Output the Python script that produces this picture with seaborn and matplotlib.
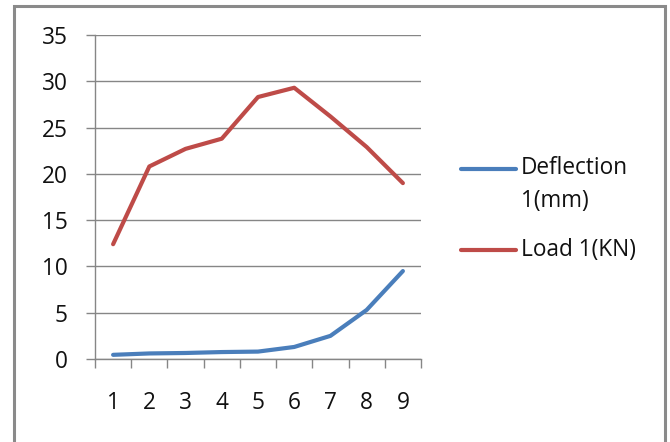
import matplotlib
matplotlib.use("Agg")
import matplotlib.pyplot as plt
from matplotlib.lines import Line2D
from matplotlib.patches import Rectangle
import seaborn as sns
import pandas as pd

# Test readings per step
steps = [1, 2, 3, 4, 5, 6, 7, 8, 9]
deflection_mm = [0.45, 0.6, 0.65, 0.75, 0.8, 1.3, 2.5, 5.3, 9.5]
load_kn = [12.4, 20.8, 22.7, 23.8, 28.3, 29.3, 26.2, 22.9, 19.0]
series_names = ["Deflection\n1(mm)", "Load 1(KN)"]
series_colors = ["#4A7EBB", "#BE4B48"]
y_ticks = [0, 5, 10, 15, 20, 25, 30, 35]

df = pd.DataFrame({
    "step": steps * 2,
    "value": deflection_mm + load_kn,
    "series": [series_names[0]] * len(steps) + [series_names[1]] * len(steps),
})

sns.set_theme(style="white")
plt.rcParams["font.family"] = ["Open Sans", "DejaVu Sans"]

W, H = 670, 442
FS = 16.3
fig = plt.figure(figsize=(W / 100, H / 100), dpi=100)
ax = fig.add_axes([95 / W, 1 - 359 / H, (421 - 95) / W, (359 - 35) / H])

sns.lineplot(data=df, x="step", y="value", hue="series",
             palette=dict(zip(series_names, series_colors)),
             linewidth=3.0, legend=False, ax=ax, solid_capstyle="round")

grid_c = "#868686"
text_c = "#111111"
ax.set_xlim(0.5, 9.5)
ax.set_ylim(0, 35)
ax.set_yticks(y_ticks)
ax.set_yticklabels([str(v) for v in y_ticks])
ax.yaxis.grid(True, color=grid_c, linewidth=1.0)
ax.set_axisbelow(True)
for side in ["top", "right"]:
    ax.spines[side].set_visible(False)
for side in ["left", "bottom"]:
    ax.spines[side].set_color(grid_c)
    ax.spines[side].set_linewidth(1.0)

# category boundary ticks below the x axis, labels at category centres
ax.set_xticks([i + 0.5 for i in range(0, 10)], minor=True)
ax.set_xticks(steps)
ax.set_xticklabels([str(s) for s in steps])
ax.tick_params(axis="x", which="major", bottom=True, length=0, pad=23, labelsize=FS,
               colors=text_c)
ax.tick_params(axis="x", which="minor", bottom=True, length=6.5, width=1.0, color=grid_c,
               direction="out")
ax.tick_params(axis="y", which="major", left=True, length=6.5, width=1.0, color=grid_c,
               direction="out", pad=13, labelsize=FS, labelcolor=text_c)
ax.set_xlabel("")
ax.set_ylabel("")

# legend on the right
def fx(px):
    return px / W

def fy(py):
    return 1 - py / H

for color, y_line in zip(series_colors, [169, 250]):
    fig.add_artist(Line2D([fx(461), fx(516)], [fy(y_line), fy(y_line)],
                          color=color, linewidth=3.0, solid_capstyle="round"))
fig.text(fx(521), fy(168), "Deflection", fontsize=FS, va="center", ha="left", color=text_c)
fig.text(fx(521), fy(201), "1(mm)", fontsize=FS, va="center", ha="left", color=text_c)
fig.text(fx(521), fy(250), "Load 1(KN)", fontsize=FS, va="center", ha="left", color=text_c)

# chart frame
fig.add_artist(Rectangle((fx(14), fy(460)), fx(665) - fx(14), fy(6) - fy(460),
                         fill=False, edgecolor="#8a8a8a", linewidth=2.2,
                         transform=fig.transFigure, clip_on=False))

fig.savefig("out.png", dpi=100, facecolor="white")
